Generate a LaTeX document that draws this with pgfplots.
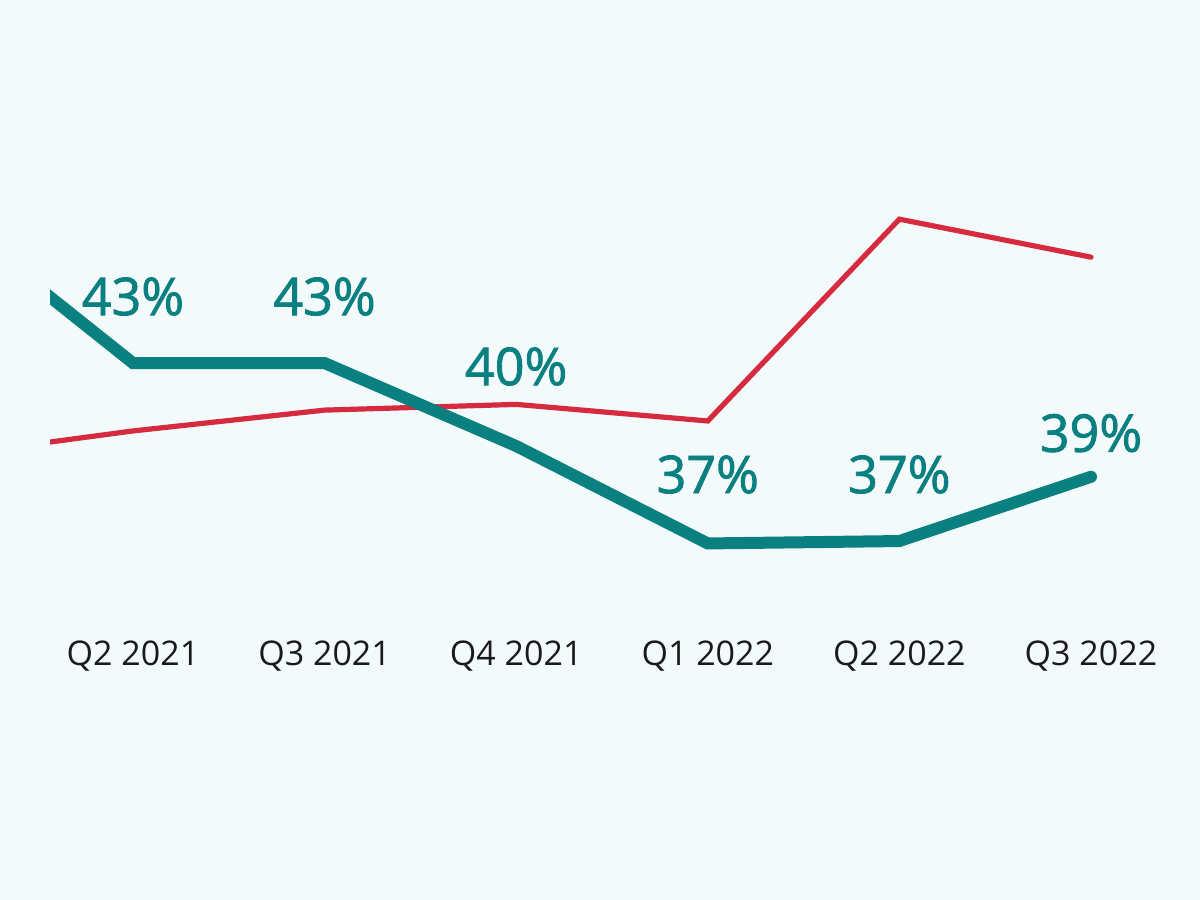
\documentclass[border=0pt]{standalone}
\usepackage{fontspec}
\setmainfont{Open Sans}
\newfontfamily\sbfont{Open Sans}[FakeBold=1.6]
\usepackage{pgfplots}
\pgfplotsset{compat=1.18}
\definecolor{bgc}{HTML}{F2FAFB}
\definecolor{tealc}{HTML}{0B8080}
\definecolor{redc}{HTML}{D62A3E}
\definecolor{txt}{HTML}{1A1A1A}
\begin{document}
\begin{tikzpicture}
\fill[bgc] (0,0) rectangle (600pt,450pt);
\begin{axis}[
  at={(25pt,147.8pt)}, anchor=south west,
  scale only axis, width=550pt, height=226.25pt,
  xmin=0.567, xmax=6.308, ymin=35, ymax=50,
  axis line style={draw=none},
  xtick={1,2,3,4,5,6},
  xticklabels={Q2 2021,Q3 2021,Q4 2021,Q1 2022,Q2 2022,Q3 2022},
  ytick=\empty,
  major tick length=0pt,
  xticklabel style={font=\fontsize{17}{20}\selectfont, text=txt, yshift=-14.5pt, anchor=north},
  tick style={draw=none},
]
\addplot[redc, line width=2.6pt, line join=miter, line cap=round] coordinates {
  (0,39.9) (1,40.75) (2,41.44) (3,41.63) (4,41.08) (5,47.77) (6,46.51)
};
\addplot[tealc, line width=6pt, line join=miter, line cap=round] coordinates {
  (0,48.06) (1,43.0) (2,43.0) (3,40.25) (4,37.02) (5,37.1) (6,39.23)
};
\addplot[draw=none, mark=none, nodes near coords, point meta=explicit symbolic,
  every node near coord/.append style={anchor=base, inner sep=0pt, text=tealc, font=\sbfont\fontsize{26}{30}\selectfont}]
  coordinates {
  (1,44.59)[43\%] (2,44.59)[43\%] (3,42.27)[40\%] (4,38.69)[37\%] (5,38.69)[37\%] (6,40.06)[39\%]
};
\end{axis}
\pgfresetboundingbox
\path[use as bounding box] (0,0) rectangle (600pt,450pt);
\end{tikzpicture}
\end{document}
